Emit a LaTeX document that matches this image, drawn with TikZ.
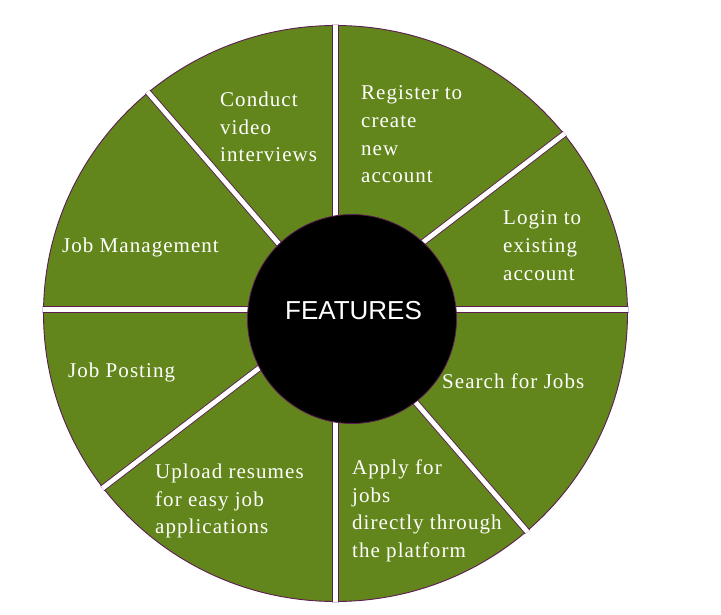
\documentclass[tikz,border=0pt]{standalone}
\usepackage{fontspec}
\usetikzlibrary{calc}
\newfontfamily\tnr{Liberation Serif}[LetterSpace=5]
\newfontfamily\arl{Liberation Sans}
\definecolor{segGreen}{RGB}{99,134,28}
\definecolor{segPurple}{RGB}{92,30,82}
\begin{document}
\begin{tikzpicture}[x=1pt,y=-1pt,
  txt/.style={text=white, font=\tnr\fontsize{21}{25}\selectfont, anchor=base west, inner sep=0pt}]
\useasboundingbox (0,0) rectangle (721,615);
\coordinate (E) at (335.5,313.5);
\coordinate (P) at (335.5,309.5);
\fill[segGreen,draw=segPurple,line width=0.9pt] (E) ellipse [x radius=292, y radius=288];
\begin{scope}
\clip (E) ellipse [x radius=293, y radius=289];
\foreach \a in {0,37.5,90,130.8}{
  \draw[segPurple,line width=6.6pt] ($(P)+(-\a:400)$) -- ($(P)+(180-\a:400)$);
  \draw[white,line width=4.8pt] ($(P)+(-\a:400)$) -- ($(P)+(180-\a:400)$);
}
\end{scope}
\node[circle,fill=black,draw=segPurple,line width=0.8pt,minimum size=209pt,inner sep=0pt] (hub) at (352,319) {};
\node[text=white,font=\arl\fontsize{26}{30}\selectfont,anchor=base,inner sep=0pt] (feat) at (353.5,319.3) {FEATURES};
% Conduct video interviews
\node[txt] (cv1) at (220,107) {Conduct};
\node[txt] (cv2) at (220,135) {video};
\node[txt] (cv3) at (220,162) {interviews};
% Register
\node[txt] (rg1) at (361,100) {Register to};
\node[txt] (rg2) at (361,127.6) {create};
\node[txt] (rg3) at (361,155.2) {new};
\node[txt] (rg4) at (361,182.8) {account};
% Login
\node[txt] (lg1) at (503,225) {Login to};
\node[txt] (lg2) at (503,252.6) {existing};
\node[txt] (lg3) at (503,280) {account};
% Job management / posting
\node[txt] (jm) at (62,253) {Job Management};
\node[txt] (jp) at (68,377) {Job Posting};
% Search
\node[txt] (sj) at (442,388) {Search for Jobs};
% Upload
\node[txt] (up1) at (155,478) {Upload resumes};
\node[txt] (up2) at (155,506) {for easy job};
\node[txt] (up3) at (155,533) {applications};
% Apply
\node[txt] (ap1) at (352,474) {Apply for};
\node[txt] (ap2) at (352,502) {jobs};
\node[txt] (ap3) at (352,529) {directly through};
\node[txt] (ap4) at (352,557) {the platform};
\end{tikzpicture}
\end{document}
